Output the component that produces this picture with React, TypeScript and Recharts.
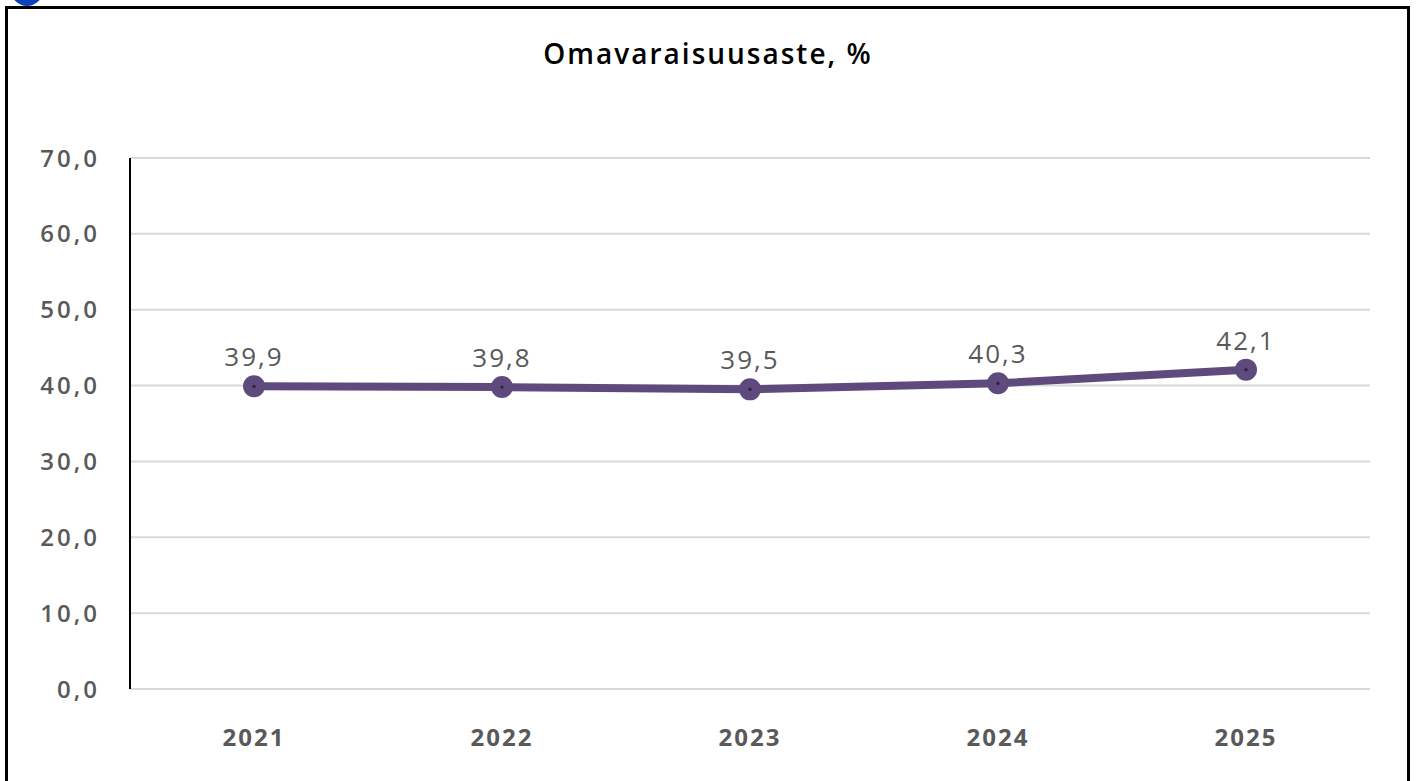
import React from "react";
import { CartesianGrid, LabelList, Line, LineChart, XAxis, YAxis } from "recharts";

const YEARS = ["2021", "2022", "2023", "2024", "2025"];
const EQUITY_RATIO = [39.9, 39.8, 39.5, 40.3, 42.1];
const Y_TICKS = [0, 10, 20, 30, 40, 50, 60, 70];

const data = YEARS.map((year, i) => ({ year, value: EQUITY_RATIO[i] }));

const PURPLE = "#5f4a7d";
const GREY = "#595959";
const FONT = "'Open Sans', 'Noto Sans', sans-serif";

const fi = (v: number) => v.toFixed(1).replace(".", ",");

const Dot = (props: any) => {
  const { cx, cy, index } = props;
  if (cx == null || cy == null) return null;
  return (
    <g key={index}>
      <circle cx={cx} cy={cy} r={11} fill={PURPLE} />
      <circle cx={cx} cy={cy} r={1.6} fill="#2b2040" />
    </g>
  );
};

export default function App() {
  return (
    <div
      style={{
        position: "fixed",
        left: 0,
        top: 0,
        width: 1416,
        height: 781,
        overflow: "hidden",
        background: "#fff",
        fontFamily: FONT,
      }}
    >
      <div
        style={{
          position: "absolute",
          left: 5,
          top: 6,
          width: 1399,
          height: 800,
          border: "3px solid #000",
        }}
      />
      <div
        style={{
          position: "absolute",
          left: 11,
          top: -26,
          width: 32,
          height: 32,
          borderRadius: "50%",
          background: "#0b44b8",
        }}
      />
      <div
        style={{
          position: "absolute",
          left: 0,
          width: 1416,
          top: 34,
          textAlign: "center",
          fontSize: 28,
          fontWeight: 600,
          letterSpacing: 2,
          color: "#000",
        }}
      >
        Omavaraisuusaste, %
      </div>
      <div style={{ position: "absolute", left: 0, top: 0 }}>
        <LineChart
          width={1416}
          height={781}
          data={data}
          margin={{ top: 158, right: 46, bottom: 62, left: 30 }}
        >
          <CartesianGrid vertical={false} stroke="#d9d9d9" strokeWidth={2} />
          <XAxis
            dataKey="year"
            padding={{ left: 124, right: 124 }}
            axisLine={false}
            tickLine={false}
            tickSize={0}
            tickMargin={40}
            tick={{ fill: GREY, fontSize: 24, fontWeight: 700, fontFamily: FONT, letterSpacing: 2 }}
          />
          <YAxis
            width={100}
            domain={[0, 70]}
            ticks={Y_TICKS}
            tickFormatter={fi}
            axisLine={{ stroke: "#000", strokeWidth: 2 }}
            tickLine={false}
            tickSize={0}
            tickMargin={30}
            tick={{ fill: GREY, fontSize: 24, fontWeight: 600, fontFamily: FONT, letterSpacing: 3 }}
          />
          <Line
            type="linear"
            dataKey="value"
            stroke={PURPLE}
            strokeWidth={8}
            dot={<Dot />}
            activeDot={false}
            isAnimationActive={false}
          >
            <LabelList
              dataKey="value"
              position="top"
              offset={20}
              formatter={(v: any) => fi(Number(v))}
              style={{ fill: GREY, fontSize: 26, fontFamily: FONT, letterSpacing: 2 }}
            />
          </Line>
        </LineChart>
      </div>
    </div>
  );
}
